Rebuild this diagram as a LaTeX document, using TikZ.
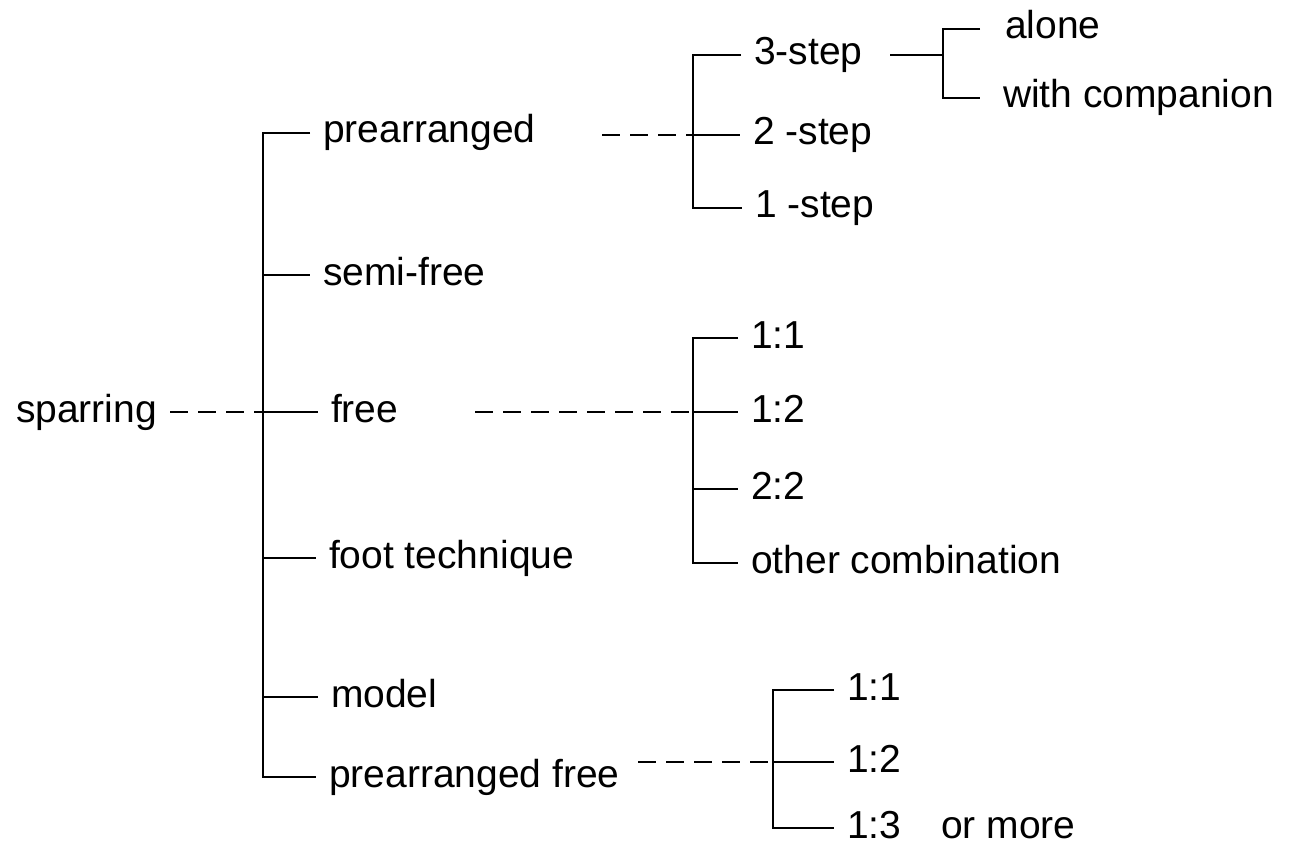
\documentclass[tikz,border=0pt]{standalone}
\usepackage{fontspec}
\setmainfont{Liberation Sans}

\tikzset{every picture/.style={line width=2.2pt},
	lbl/.style={anchor=west, inner xsep=12pt, inner ysep=0pt, text height=26pt, text depth=6pt, font=\fontsize{39}{44}\selectfont},
	dashline/.style={dash pattern=on 18pt off 10pt}}

\begin{document}
\begin{tikzpicture}[x=1pt,y=1pt,yscale=-1,xscale=1]
	\useasboundingbox (0,0) rectangle (1314,845);

	% Text Node
	\node[lbl] (spar) at (3,412) {sparring};
	% Text Node
	\node[lbl] (pre) at (310,133) {prearranged};
	% Text Node
	\node[lbl] (semi) at (310,275) {semi-free};
	% Text Node
	\node[lbl] (free) at (318,412) {free};
	% Text Node
	\node[lbl] (foot) at (316,558) {foot technique};
	% Text Node
	\node[lbl] (model) at (318,697) {model};
	% Text Node
	\node[lbl] (pfree) at (316,777) {prearranged free};

	%Main bracket
	\coordinate (mj) at (263,133);
	\draw (pre.west) -| (mj) |- (pfree.west);
	\draw (semi.west -| mj) -- (semi.west);
	\draw (free.west -| mj) -- (free.west);
	\draw (foot.west -| mj) -- (foot.west);
	\draw (model.west -| mj) -- (model.west);
	\draw [dashline] (spar.east) -- (spar.east -| mj);

	% Text Node
	\node[lbl] (three) at (741,55) {3-step};
	% Text Node
	\node[lbl] (two) at (740,135) {2 -step};
	% Text Node
	\node[lbl] (one) at (742,208) {1 -step};

	%Prearranged bracket
	\coordinate (pj) at (693,55);
	\coordinate (pdash) at (602,135);
	\draw (three.west) -| (pj) |- (one.west);
	\draw (two.west -| pj) -- (two.west);
	\draw [dashline] (pdash) -- (pdash -| pj);

	% Text Node
	\node[lbl, inner xsep=24pt] (alone) at (980,29) {alone};
	% Text Node
	\node[lbl, inner xsep=22pt] (comp) at (980,98) {with companion};

	%3-step bracket
	\coordinate (sj) at (943,29);
	\coordinate (tline) at (890,55);
	\draw (alone.west) -| (sj) |- (comp.west);
	\draw (tline) -- (tline -| sj);

	% Text Node
	\node[lbl] (fa) at (738,338) {1:1};
	% Text Node
	\node[lbl] (fb) at (738,412) {1:2};
	% Text Node
	\node[lbl] (fc) at (738,489) {2:2};
	% Text Node
	\node[lbl] (fo) at (738,563) {other combination};

	%Free bracket
	\coordinate (fj) at (693,338);
	\coordinate (fdash) at (475,412);
	\draw (fa.west) -| (fj) |- (fo.west);
	\draw (fb.west -| fj) -- (fb.west);
	\draw (fc.west -| fj) -- (fc.west);
	\draw [dashline] (fdash) -- (fdash -| fj);

	% Text Node
	\node[lbl] (qa) at (834,690) {1:1};
	% Text Node
	\node[lbl] (qb) at (834,762) {1:2};
	% Text Node
	\node[lbl] (qc) at (834,828) {1:3\hspace{40pt}or more};

	%Prearranged free bracket
	\coordinate (qj) at (773,690);
	\coordinate (qdash) at (638,762);
	\draw (qa.west) -| (qj) |- (qc.west);
	\draw (qb.west -| qj) -- (qb.west);
	\draw [dashline] (qdash) -- (qdash -| qj);

\end{tikzpicture}
\end{document}
